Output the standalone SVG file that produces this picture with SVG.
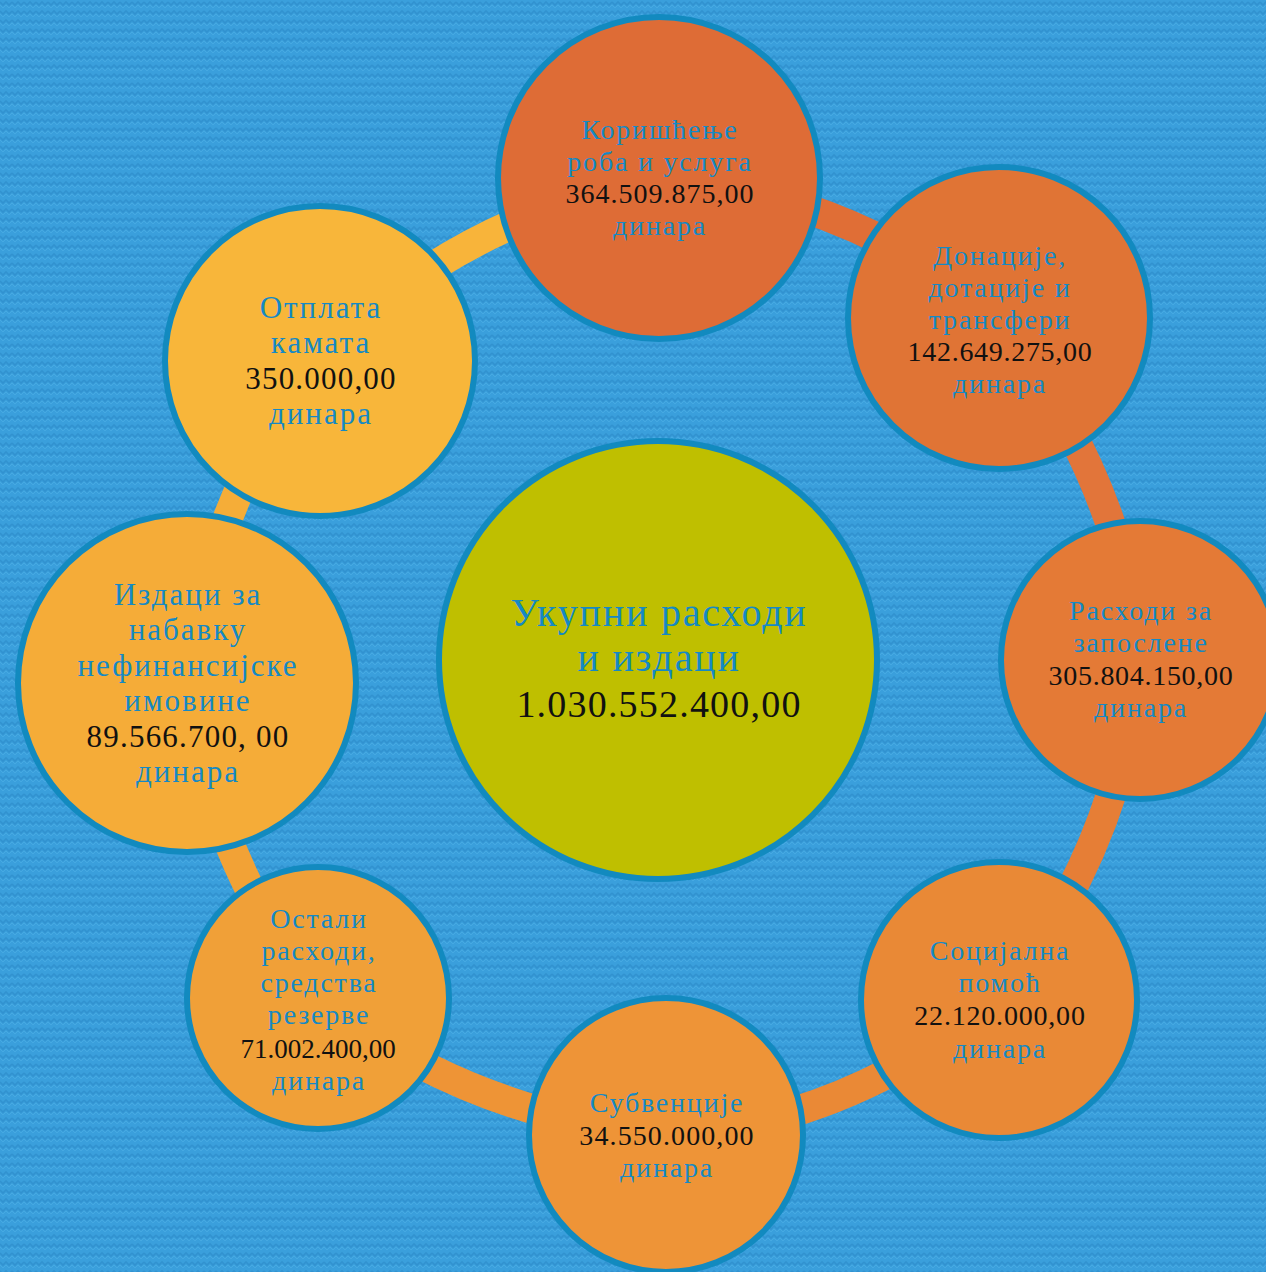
<svg xmlns="http://www.w3.org/2000/svg" width="1266" height="1272" viewBox="0 0 1266 1272">
<defs>
<pattern id="knit" width="12" height="9" patternUnits="userSpaceOnUse">
<rect width="12" height="9" fill="#3A9FDC"/>
<polyline points="0,2 3,5 6,2 9,5 12,2" fill="none" stroke="#3192D0" stroke-width="1.6"/>
<polyline points="0,5 3,8 6,5 9,8 12,5" fill="none" stroke="#46A9E2" stroke-width="1"/>
</pattern>
<style>
.node{stroke:#128ABF;stroke-width:6}
.lbl{font-family:"Liberation Serif","DejaVu Serif",serif;fill:#1589C4;text-anchor:middle;font-size:28px;letter-spacing:1.8px}
.big{font-size:31px;letter-spacing:2px}
.num{font-family:"Liberation Serif","DejaVu Serif",serif;fill:#111;text-anchor:middle;font-size:28px}
.ring{fill:none;stroke-width:30}
</style>
</defs>
<rect width="1266" height="1272" fill="url(#knit)"/>
<g id="connectors">
<path class="ring" stroke="#E06E36" d="M659,178 Q855,196 999,318"/>
<path class="ring" stroke="#E2753A" d="M999,318 Q1124.5,487 1140,660"/>
<path class="ring" stroke="#E67E36" d="M1140,660 Q1118.5,852 999,1000"/>
<path class="ring" stroke="#EA8936" d="M999,1000 Q844.7,1124.5 666,1135"/>
<path class="ring" stroke="#EE9436" d="M666,1135 Q468,1115.5 318,998"/>
<path class="ring" stroke="#F2A236" d="M318,998 Q211.5,859.5 187,683"/>
<path class="ring" stroke="#F5AD38" d="M187,683 Q212.5,488.5 320,360"/>
<path class="ring" stroke="#F8B43A" d="M320,360 Q450.5,221 659,178"/>
</g>
<g id="center">
<circle class="node" cx="658" cy="660" r="219" fill="#BFBF00"/>
<text class="lbl" style="font-size:40px;letter-spacing:1.8px"><tspan x="659" y="626">Укупни расходи</tspan><tspan x="659" y="671">и издаци</tspan></text>
<text class="num" x="659" y="717" style="font-size:38px;letter-spacing:1.2px">1.030.552.400,00</text>
</g>
<g id="n-koriscenje">
<circle class="node" cx="659" cy="178" r="161" fill="#DE6C36"/>
<text class="lbl"><tspan x="660" y="139">Коришћење</tspan><tspan x="660" y="171">роба и услуга</tspan></text>
<text class="num" x="660" y="203" style="letter-spacing:1px">364.509.875,00</text>
<text class="lbl" x="660" y="235">динара</text>
</g>
<g id="n-donacije">
<circle class="node" cx="999" cy="318" r="151" fill="#E07435"/>
<text class="lbl"><tspan x="1000" y="265">Донације,</tspan><tspan x="1000" y="297">дотације и</tspan><tspan x="1000" y="329">трансфери</tspan></text>
<text class="num" x="1000" y="361" style="letter-spacing:0.7px">142.649.275,00</text>
<text class="lbl" x="1000" y="393">динара</text>
</g>
<g id="n-zaposlene">
<circle class="node" cx="1140" cy="660" r="139" fill="#E47A36"/>
<text class="lbl"><tspan x="1141" y="620">Расходи за</tspan><tspan x="1141" y="652">запослене</tspan></text>
<text class="num" x="1141" y="685" style="letter-spacing:0.7px">305.804.150,00</text>
<text class="lbl" x="1141" y="717">динара</text>
</g>
<g id="n-socijalna">
<circle class="node" cx="999" cy="1000" r="138" fill="#E98936"/>
<text class="lbl"><tspan x="1000" y="960">Социјална</tspan><tspan x="1000" y="992">помоћ</tspan></text>
<text class="num" x="1000" y="1025" style="letter-spacing:0.8px">22.120.000,00</text>
<text class="lbl" x="1000" y="1058">динара</text>
</g>
<g id="n-subvencije">
<circle class="node" cx="666" cy="1135" r="137" fill="#EE9437"/>
<text class="lbl" x="667" y="1112">Субвенције</text>
<text class="num" x="667" y="1145" style="letter-spacing:1.1px">34.550.000,00</text>
<text class="lbl" x="667" y="1177">динара</text>
</g>
<g id="n-ostali">
<circle class="node" cx="318" cy="998" r="131" fill="#F0A038"/>
<text class="lbl"><tspan x="319" y="928">Остали</tspan><tspan x="319" y="960">расходи,</tspan><tspan x="319" y="992">средства</tspan><tspan x="319" y="1024">резерве</tspan></text>
<text class="num" x="318" y="1058" style="font-size:27px">71.002.400,00</text>
<text class="lbl" x="319" y="1090">динара</text>
</g>
<g id="n-izdaci">
<circle class="node" cx="187" cy="683" r="169" fill="#F5AC38"/>
<text class="lbl big"><tspan x="188" y="605">Издаци за</tspan><tspan x="188" y="640">набавку</tspan><tspan x="188" y="676">нефинансијске</tspan><tspan x="188" y="711">имовине</tspan></text>
<text class="num" x="188" y="747" style="font-size:31px;letter-spacing:1.2px">89.566.700, 00</text>
<text class="lbl big" x="188" y="782">динара</text>
</g>
<g id="n-otplata">
<circle class="node" cx="320" cy="361" r="155" fill="#F8B63A"/>
<text class="lbl big"><tspan x="321" y="318">Отплата</tspan><tspan x="321" y="353">камата</tspan></text>
<text class="num" x="321" y="389" style="font-size:31px;letter-spacing:1.2px">350.000,00</text>
<text class="lbl big" x="321" y="424">динара</text>
</g>
</svg>
